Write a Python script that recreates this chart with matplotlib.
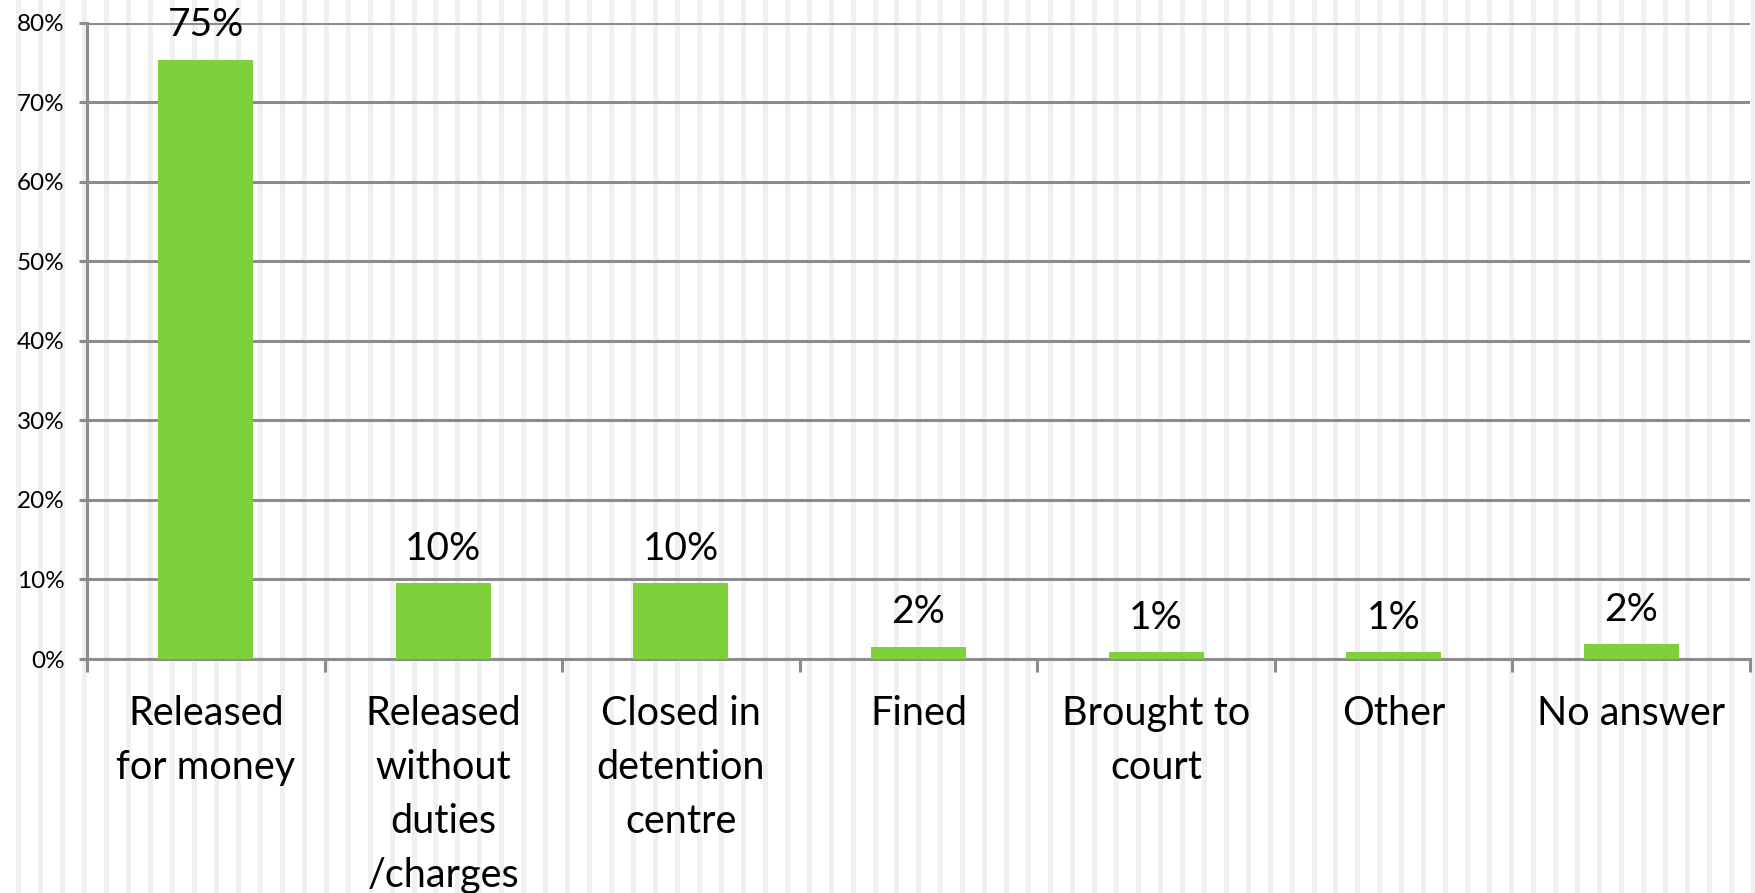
import matplotlib
matplotlib.use("Agg")
import matplotlib.pyplot as plt
import numpy as np

categories = ["Released\nfor money", "Released\nwithout\nduties\n/charges", "Closed in\ndetention\ncentre",
              "Fined", "Brought to\ncourt", "Other", "No answer"]
values = [75.3, 9.5, 9.5, 1.55, 0.85, 0.85, 1.85]
value_labels = ["75%", "10%", "10%", "2%", "1%", "1%", "2%"]
yticks = [0, 10, 20, 30, 40, 50, 60, 70, 80]

plt.rcParams['font.family'] = ['Lato', 'DejaVu Sans']

W, H = 1756, 893
fig = plt.figure(figsize=(W / 100, H / 100), dpi=100)
fig.patch.set_facecolor("white")

# background vertical stripes
bg = fig.add_axes([0, 0, 1, 1], zorder=0)
bg.set_xlim(0, W)
bg.set_ylim(0, H)
bg.axis("off")
period = 21.95
x = -3.0
while x < W:
    bg.axvspan(x - 2.5, x + 2.5, color="#f0f0f0", lw=0)
    x += period

gray = "#8c8c8c"
ax = fig.add_axes([87 / W, (H - 659) / H, (1750 - 87) / W, (659 - 22.7) / H], zorder=1)
ax.patch.set_alpha(0)
n = len(categories)
xs = np.arange(n)
ax.bar(xs, values, width=0.4, color="#7fd13b", zorder=3)
ax.set_xlim(-0.5, n - 0.5)
ax.set_ylim(0, 80)

ax.set_yticks(yticks)
ax.set_yticklabels([f"{t}%" for t in yticks], fontsize=17.5)
ax.yaxis.grid(True, color=gray, lw=2.2, zorder=1)
ax.set_axisbelow(True)

ax.set_xticks(np.arange(n + 1) - 0.5)
ax.set_xticklabels([])
ax.set_xticks(xs, minor=True)
ax.set_xticklabels(categories, minor=True, fontsize=28.5, linespacing=1.57, va="top")
ax.tick_params(axis="x", which="major", length=9, width=2.2, color=gray)
ax.tick_params(axis="x", which="minor", length=0, pad=26)
ax.tick_params(axis="y", length=6, width=2.2, color=gray, pad=10)

for s in ["top", "right"]:
    ax.spines[s].set_visible(False)
for s in ["left", "bottom"]:
    ax.spines[s].set_color(gray)
    ax.spines[s].set_linewidth(2.2)

for xi, v, lab in zip(xs, values, value_labels):
    ax.annotate(lab, (xi, v), xytext=(0, 17), textcoords="offset points",
                ha="center", va="baseline", fontsize=28, zorder=4)

fig.savefig("out.png", dpi=100)
